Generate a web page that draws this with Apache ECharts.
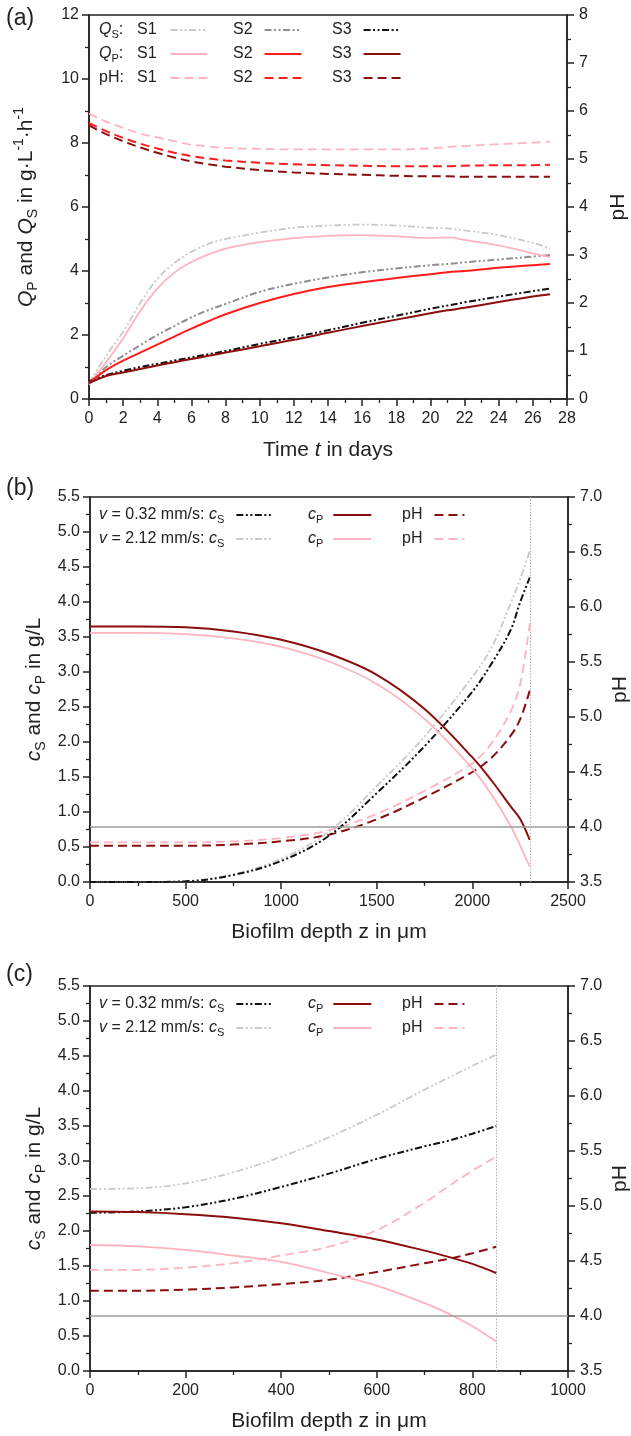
<!DOCTYPE html>
<html><head><meta charset="utf-8">
<script src="https://cdn.jsdelivr.net/npm/echarts@6/dist/echarts.min.js"></script>
<style>html,body{margin:0;padding:0;background:#fff}#c{width:631px;height:1436px}</style>
</head><body><div id="c"></div>
<script>
// ---------- Panel (a): time courses ----------
const tDays = [0,1,2,3,4,5,6,7,8,10,12,14,16,18,20,21,22,24,26,27];
const qsS1 = [0.5,1.35,2.1,3.0,3.75,4.25,4.6,4.85,5.0,5.2,5.35,5.42,5.45,5.42,5.35,5.33,5.27,5.12,4.88,4.7];
const qpS1 = [0.45,1.15,1.9,2.75,3.45,3.95,4.28,4.52,4.7,4.9,5.03,5.1,5.12,5.08,5.03,5.05,4.97,4.8,4.55,4.43];
const qsS2 = [0.5,1.0,1.35,1.68,2.0,2.28,2.55,2.78,2.97,3.35,3.6,3.8,3.96,4.08,4.18,4.22,4.27,4.36,4.45,4.5];
const qpS2 = [0.5,0.9,1.2,1.45,1.7,1.95,2.2,2.43,2.65,3.0,3.28,3.5,3.65,3.78,3.9,3.96,4.0,4.1,4.18,4.22];
const qsS3 = [0.55,0.75,0.88,1.0,1.1,1.2,1.3,1.4,1.5,1.72,1.93,2.15,2.38,2.6,2.82,2.92,3.02,3.2,3.37,3.45];
const qpS3 = [0.5,0.72,0.83,0.94,1.05,1.15,1.25,1.35,1.45,1.65,1.85,2.07,2.28,2.48,2.68,2.77,2.85,3.03,3.2,3.27];
const phS1 = [5.95,5.78,5.65,5.53,5.45,5.37,5.3,5.26,5.23,5.21,5.2,5.2,5.2,5.2,5.22,5.25,5.27,5.31,5.34,5.36];
const phS2 = [5.75,5.58,5.44,5.32,5.22,5.13,5.06,5.01,4.97,4.92,4.89,4.87,4.86,4.85,4.85,4.85,4.86,4.87,4.87,4.88];
const phS3 = [5.7,5.52,5.37,5.24,5.13,5.03,4.95,4.89,4.84,4.77,4.72,4.69,4.67,4.65,4.64,4.64,4.63,4.63,4.63,4.63];

// ---------- Panel (b): depth profiles, thick biofilm ----------
const zB = [0,250,500,750,1000,1250,1500,1750,2000,2100,2200,2250,2300];
const bCs032 = [0,0,0.01,0.1,0.3,0.66,1.27,1.94,2.72,3.12,3.6,4.0,4.35];
const bCs212 = [0,0,0.01,0.11,0.33,0.72,1.37,2.08,2.93,3.35,3.98,4.33,4.73];
const bCp032 = [3.65,3.65,3.64,3.58,3.46,3.26,2.96,2.47,1.78,1.45,1.08,0.9,0.6];
const bCp212 = [3.56,3.56,3.54,3.48,3.36,3.15,2.83,2.33,1.62,1.25,0.8,0.52,0.22];
const bPh032 = [3.83,3.83,3.83,3.84,3.87,3.93,4.07,4.27,4.5,4.63,4.83,4.98,5.24];
const bPh212 = [3.86,3.86,3.86,3.87,3.9,3.97,4.12,4.33,4.58,4.76,5.05,5.3,5.85];

// ---------- Panel (c): depth profiles, thin biofilm ----------
const zC = [0,100,200,300,400,500,600,700,750,800,850];
const cCs032 = [2.26,2.28,2.34,2.46,2.63,2.82,3.03,3.21,3.29,3.39,3.5];
const cCs212 = [2.6,2.61,2.68,2.84,3.06,3.34,3.66,4.02,4.19,4.36,4.52];
const cCp032 = [2.28,2.27,2.24,2.19,2.11,2.0,1.88,1.72,1.63,1.53,1.4];
const cCp212 = [1.8,1.78,1.73,1.65,1.56,1.4,1.22,0.97,0.82,0.64,0.42];
const cPh032 = [4.23,4.23,4.24,4.26,4.29,4.33,4.4,4.48,4.52,4.57,4.63];
const cPh212 = [4.42,4.42,4.44,4.48,4.55,4.63,4.78,5.03,5.18,5.32,5.45];

// reference lines
const phLimit = 4.0;
const edgeB = 2300;
const edgeC = 850;

// ---------- styling ----------
const FF = '"Liberation Sans", Arial, Helvetica, sans-serif';
const TXT = '#222';
const LG = '#c9c9c9', MG = '#8e8e8e', BK = '#111111', PK = '#ffb3bf', RD = '#ff1c1c', DR = '#8b0d0d';
const DD = [7, 2.5, 2, 2.5, 2, 2.5];
const DS = [9, 5];

const pts = (xs, ys) => xs.map((x, i) => [x, ys[i]]);
const LABELS = {};
const series = [];
function add(name, label, xi, yi, xs, ys, color, width, dash, extra) {
  LABELS[name] = label;
  series.push(Object.assign({
    name, type: 'line', xAxisIndex: xi, yAxisIndex: yi, data: pts(xs, ys),
    symbol: 'none', smooth: 0.35, color,
    lineStyle: { color, width, type: dash || 'solid' }, animation: false, silent: true
  }, extra || {}));
}

// panel a
add('a|pH|S1', 'S1', 0, 1, tDays, phS1, PK, 1.8, DS);
add('a|pH|S2', 'S2', 0, 1, tDays, phS2, RD, 2, DS);
add('a|pH|S3', 'S3', 0, 1, tDays, phS3, DR, 2, DS);
add('a|QS|S1', 'S1', 0, 0, tDays, qsS1, LG, 1.8, DD);
add('a|QS|S2', 'S2', 0, 0, tDays, qsS2, MG, 2, DD);
add('a|QS|S3', 'S3', 0, 0, tDays, qsS3, BK, 2, DD);
add('a|QP|S1', 'S1', 0, 0, tDays, qpS1, PK, 1.8, null);
add('a|QP|S2', 'S2', 0, 0, tDays, qpS2, RD, 2, null);
add('a|QP|S3', 'S3', 0, 0, tDays, qpS3, DR, 2, null);

function refLines(x) {
  return { markLine: { silent: true, symbol: 'none', label: { show: false }, animation: false,
    data: [
      { yAxis: phLimit, lineStyle: { color: '#9c9c9c', width: 1.6, type: 'solid' } },
      { xAxis: x, lineStyle: { color: '#b0b0b0', width: 1, type: [1.5, 1.5] } }
    ] } };
}
// panel b
add('b|pH|212', 'pH', 1, 3, zB, bPh212, PK, 1.8, DS, refLines(edgeB));
add('b|pH|032', 'pH', 1, 3, zB, bPh032, DR, 2, DS);
add('b|cS|212', '{i|c}{s|S}', 1, 2, zB, bCs212, LG, 1.8, DD);
add('b|cS|032', '{i|c}{s|S}', 1, 2, zB, bCs032, BK, 2, DD);
add('b|cP|212', '{i|c}{s|P}', 1, 2, zB, bCp212, PK, 1.8, null);
add('b|cP|032', '{i|c}{s|P}', 1, 2, zB, bCp032, DR, 2, null);
// panel c
add('c|pH|212', 'pH', 2, 5, zC, cPh212, PK, 1.8, DS, refLines(edgeC));
add('c|pH|032', 'pH', 2, 5, zC, cPh032, DR, 2, DS);
add('c|cS|212', '{i|c}{s|S}', 2, 4, zC, cCs212, LG, 1.8, DD);
add('c|cS|032', '{i|c}{s|S}', 2, 4, zC, cCs032, BK, 2, DD);
add('c|cP|212', '{i|c}{s|P}', 2, 4, zC, cCp212, PK, 1.8, null);
add('c|cP|032', '{i|c}{s|P}', 2, 4, zC, cCp032, DR, 2, null);

// ---------- axes ----------
const richSmall = {
  i: { fontStyle: 'italic', fontSize: 16, fontFamily: FF, color: TXT, lineHeight: 20 },
  s: { fontSize: 11, fontFamily: FF, color: TXT, verticalAlign: 'bottom', lineHeight: 13 }
};
const richBig = {
  i: { fontStyle: 'italic', fontSize: 21, fontFamily: FF, color: TXT, lineHeight: 28 },
  s: { fontSize: 14, fontFamily: FF, color: TXT, verticalAlign: 'bottom', lineHeight: 17 },
  u: { fontSize: 14, fontFamily: FF, color: TXT, verticalAlign: 'top', lineHeight: 17 }
};
const nameStyle = { fontSize: 21, fontFamily: FF, color: TXT, lineHeight: 28, rich: richBig };
function axisCommon(fmt) {
  return {
    type: 'value', nameMoveOverlap: false,
    axisLine: { show: true, onZero: false, lineStyle: { color: TXT, width: 1.5 } },
    axisTick: { show: true, inside: false, length: 7, lineStyle: { color: TXT, width: 1.5 } },
    minorTick: { show: true, splitNumber: 2, length: 4, lineStyle: { color: TXT, width: 1.3 } },
    axisLabel: { fontSize: 16, fontFamily: FF, color: TXT, margin: 10, formatter: fmt },
    splitLine: { show: false }, minorSplitLine: { show: false },
    nameTextStyle: nameStyle
  };
}
const f1 = v => v.toFixed(1);
const f0 = v => String(Math.round(v));
const xAxis = [
  Object.assign(axisCommon(f0), { gridIndex: 0, min: 0, max: 28, interval: 2,
    name: 'Time {i|t} in days', nameLocation: 'middle', nameGap: 37 }),
  Object.assign(axisCommon(f0), { gridIndex: 1, min: 0, max: 2500, interval: 500,
    name: 'Biofilm depth z in \u03bcm', nameLocation: 'middle', nameGap: 36 }),
  Object.assign(axisCommon(f0), { gridIndex: 2, min: 0, max: 1000, interval: 200,
    name: 'Biofilm depth z in \u03bcm', nameLocation: 'middle', nameGap: 36 })
];
xAxis.forEach(a => a.axisLabel.margin = 12);
const yAxis = [
  Object.assign(axisCommon(f0), { gridIndex: 0, position: 'left', min: 0, max: 12, interval: 2,
    name: '{i|Q}{s|P} and {i|Q}{s|S} in g\u00b7L{u|-1}\u00b7h{u|-1}', nameLocation: 'middle', nameGap: 49, nameRotate: 90 }),
  Object.assign(axisCommon(f0), { gridIndex: 0, position: 'right', min: 0, max: 8, interval: 1,
    name: 'pH', nameLocation: 'middle', nameGap: 37, nameRotate: 90 }),
  Object.assign(axisCommon(f1), { gridIndex: 1, position: 'left', min: 0, max: 5.5, interval: 0.5,
    name: '{i|c}{s|S} and {i|c}{s|P} in g/L', nameLocation: 'middle', nameGap: 42, nameRotate: 90 }),
  Object.assign(axisCommon(f1), { gridIndex: 1, position: 'right', min: 3.5, max: 7, interval: 0.5,
    name: 'pH', nameLocation: 'middle', nameGap: 38, nameRotate: 90 }),
  Object.assign(axisCommon(f1), { gridIndex: 2, position: 'left', min: 0, max: 5.5, interval: 0.5,
    name: '{i|c}{s|S} and {i|c}{s|P} in g/L', nameLocation: 'middle', nameGap: 42, nameRotate: 90 }),
  Object.assign(axisCommon(f1), { gridIndex: 2, position: 'right', min: 3.5, max: 7, interval: 0.5,
    name: 'pH', nameLocation: 'middle', nameGap: 38, nameRotate: 90 })
];
yAxis.forEach(a => a.axisLabel.margin = a.position === 'right' ? 12 : 10);

const gridBox = { show: true, borderColor: TXT, borderWidth: 1.5, backgroundColor: 'transparent',
  containLabel: false, outerBoundsMode: 'none' };
const grid = [
  Object.assign({ left: 89, top: 15, width: 478, height: 384 }, gridBox),
  Object.assign({ left: 90, top: 497, width: 478, height: 385 }, gridBox),
  Object.assign({ left: 90, top: 986, width: 478, height: 385 }, gridBox)
];

// ---------- legends (one per entry, placed like the original key) ----------
const legend = [];
function leg(name, x, yc, w, padR) {
  legend.push({
    data: [name], left: x, top: yc - 10, orient: 'horizontal', align: 'right',
    itemWidth: w, itemHeight: 12, selectedMode: false, padding: 0,
    itemStyle: { color: 'rgba(0,0,0,0)', borderColor: 'rgba(0,0,0,0)', borderWidth: 0, opacity: 0 },
    formatter: n => LABELS[n],
    textStyle: { fontSize: 16, fontFamily: FF, color: TXT, lineHeight: 20, padding: [0, padR, 0, 0], rich: richSmall }
  });
}
const aCols = [137, 233, 332], aPad = [9, 7, 7], aRows = [30, 54, 78];
['QS', 'QP', 'pH'].forEach((g, r) => ['S1', 'S2', 'S3'].forEach((s, c) =>
  leg('a|' + g + '|' + s, aCols[c], aRows[r], 37, aPad[c])));
const vCols = [209, 308, 402], vPad = [7, 5, 7], vW = [37, 38, 30];
[['b', [515, 539]], ['c', [1004, 1028]]].forEach(([p, rows]) => {
  ['032', '212'].forEach((v, r) => ['cS', 'cP', 'pH'].forEach((g, c) =>
    leg(p + '|' + g + '|' + v, vCols[c], rows[r], vW[c], vPad[c])));
});

// ---------- text graphics: panel letters and key row labels ----------
function txt(text, x, y, size) {
  return { type: 'text', left: x, top: y, silent: true,
    style: { text, fontSize: size, fontFamily: FF, fill: TXT, lineHeight: 20,
      rich: { i: { fontStyle: 'italic', fontSize: size, fontFamily: FF, fill: TXT, lineHeight: 20 },
              s: { fontSize: 11, fontFamily: FF, fill: TXT, verticalAlign: 'bottom', lineHeight: 13 } } } };
}
const graphic = [
  txt('(a)', 6, 7, 23), txt('(b)', 6, 477, 23), txt('(c)', 6, 963, 23),
  txt('{i|Q}{s|S}:', 99, 20, 16), txt('{i|Q}{s|P}:', 99, 44, 16), txt('pH:', 99, 68, 16),
  txt('{i|v} = 0.32 mm/s:', 99, 505, 16), txt('{i|v} = 2.12 mm/s:', 99, 529, 16),
  txt('{i|v} = 0.32 mm/s:', 99, 994, 16), txt('{i|v} = 2.12 mm/s:', 99, 1018, 16)
];

const chart = echarts.init(document.getElementById('c'), null, { renderer: 'canvas' });
chart.setOption({
  animation: false, backgroundColor: '#fff',
  grid, xAxis, yAxis, series, legend, graphic
});
</script>
</body></html>
